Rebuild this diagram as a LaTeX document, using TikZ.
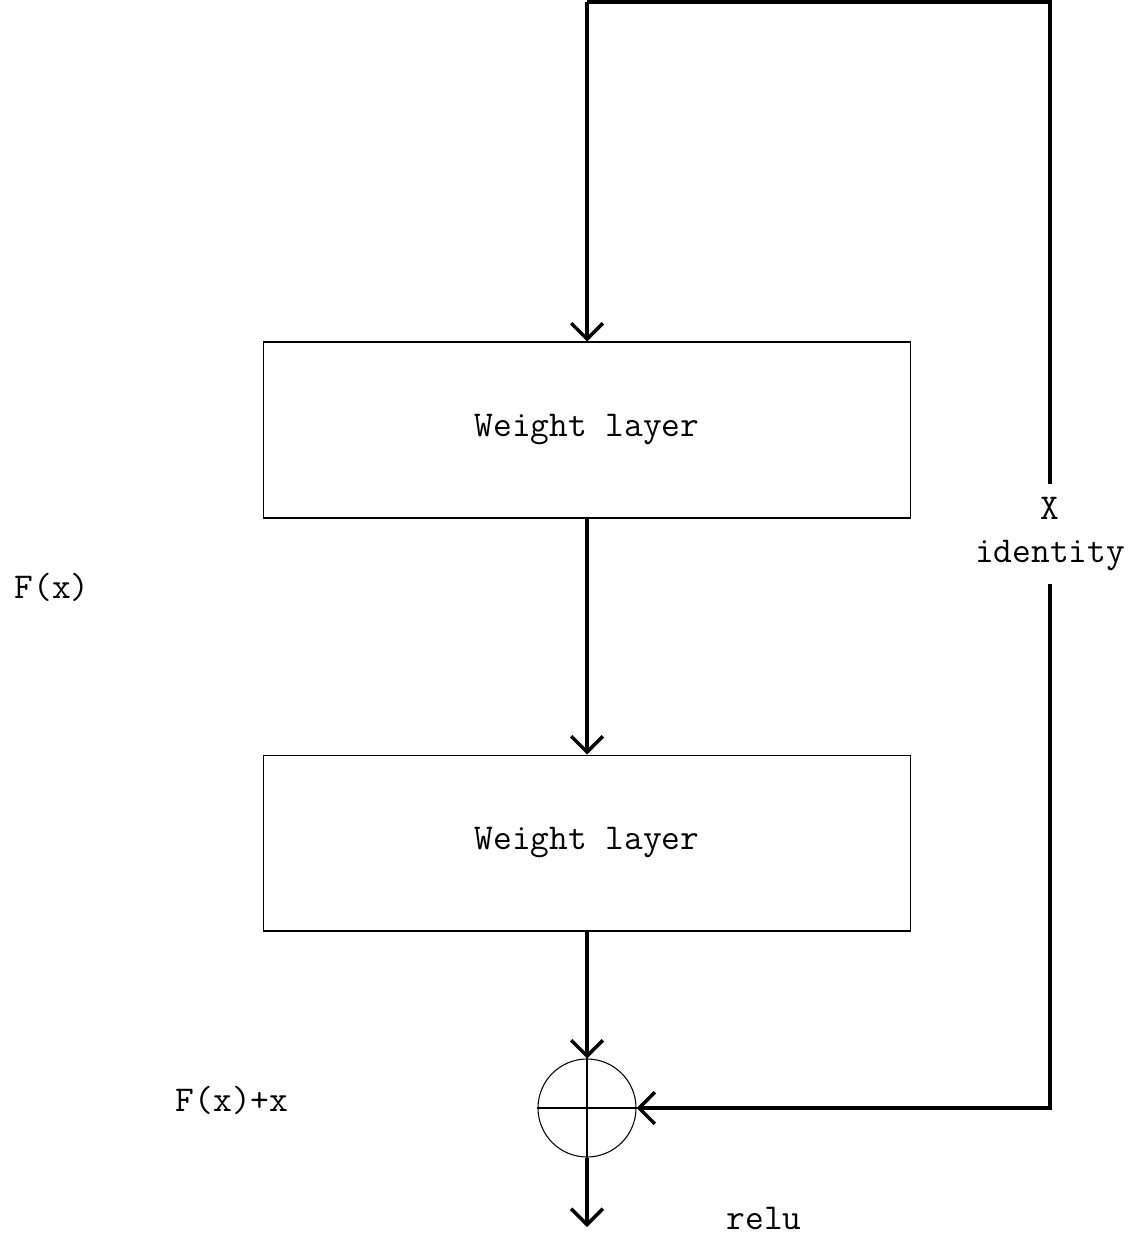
\documentclass[tikz,border=0pt]{standalone}
\usepackage{tikz}
\usetikzlibrary{arrows.meta, positioning}

\tikzset{
  layerbox/.style={draw, line width=0.6pt, minimum width=12.96cm, minimum height=3.52cm, inner sep=0pt},
  sumnode/.style={draw, circle, line width=0.6pt, minimum size=1.96cm, inner sep=0pt},
  flow/.style={line width=2pt, -{Straight Barb[length=9pt, width=18pt]}},
  plainflow/.style={line width=2pt},
  lbl/.style={font=\ttfamily\fontsize{20.7}{25}\selectfont, align=center}
}

\begin{document}
\begin{tikzpicture}[x=0.02cm, y=-0.02cm]
		% Canvas
		\useasboundingbox (0,0) rectangle (1145,1255);
		% Layers and sum
		\node[layerbox, lbl] (layerA) at (587,430) {Weight layer};
		\node[layerbox, lbl] (layerB) at (587,843) {Weight layer};
		\node[sumnode] (sum) at (587,1108) {};
		% Corner points of the shortcut
		\coordinate (topL) at (587,2);
		\coordinate (topR) at (1050,2);
		\coordinate (out) at (587,1227);
		% Shortcut label
		\node[lbl, inner sep=7pt] (ident) at (1050,534) {X\\identity};
		% Side labels
		\node[lbl] (fx) at (52,587) {F(x)};
		\node[lbl] (fxx) at (232,1100) {F(x)+x};
		\node[lbl] (relu) at (764,1218) {relu};
		% Main path
		\draw[flow] (topL) -- (layerA.north);
		\draw[flow] (layerA) -- (layerB);
		\draw[flow] (layerB) -- (sum.north);
		\draw[flow] (sum.south) -- (out);
		% Shortcut path
		\draw[plainflow] (topL) -- (topR) -- (ident.north);
		\draw[flow] (ident.south) |- (sum.east);
		% Cross inside the sum
		\draw[line width=0.6pt] (sum.west) -- (sum.east);
		\draw[line width=0.6pt] (sum.north) -- (sum.south);
	\end{tikzpicture}
\end{document}
